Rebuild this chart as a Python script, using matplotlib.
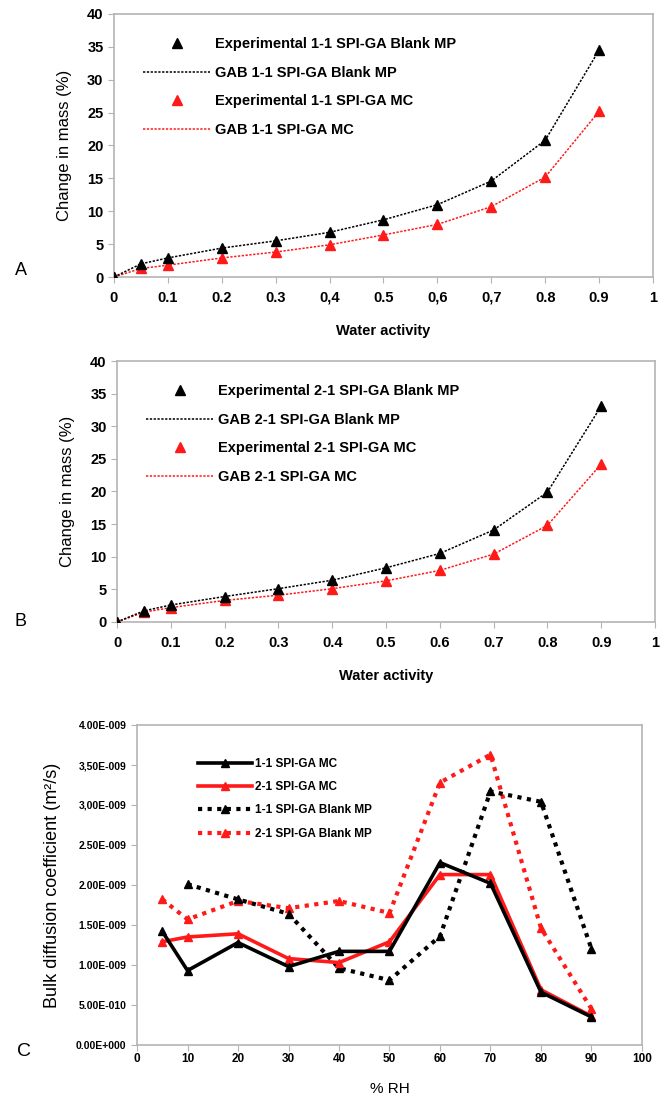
import matplotlib
matplotlib.use("Agg")
import matplotlib.pyplot as plt
import numpy as np

plt.rcParams['font.family'] = ['Liberation Sans', 'DejaVu Sans']

# Sorption isotherms (water activity vs. change in mass, %)
aw = [0, 0.05, 0.1, 0.2, 0.3, 0.4, 0.5, 0.6, 0.7, 0.8, 0.9]
a_blank_mp = [0, 2.0, 2.9, 4.4, 5.5, 6.8, 8.7, 11.0, 14.6, 20.8, 34.5]
a_mc = [0, 1.3, 1.8, 2.9, 3.8, 4.9, 6.4, 8.0, 10.7, 15.2, 25.2]
b_blank_mp = [0, 1.7, 2.6, 3.9, 5.1, 6.4, 8.3, 10.5, 14.1, 19.9, 33.1]
b_mc = [0, 1.5, 2.2, 3.3, 4.1, 5.1, 6.3, 7.9, 10.4, 14.8, 24.2]

a_xticklabels = ['0', '0.1', '0.2', '0.3', '0,4', '0.5', '0,6', '0,7', '0.8', '0.9', '1']
b_xticklabels = ['0', '0.1', '0.2', '0.3', '0.4', '0.5', '0.6', '0.7', '0.8', '0.9', '1']

# Bulk diffusion coefficients, in units of 1e-9 m2/s
rh_mc = [5, 10, 20, 30, 40, 50, 60, 70, 80, 90]
d_11_mc = [1.42, 0.93, 1.28, 0.98, 1.17, 1.17, 2.28, 2.02, 0.66, 0.35]
d_21_mc = [1.29, 1.35, 1.39, 1.08, 1.03, 1.29, 2.13, 2.13, 0.69, 0.36]
rh_11_mp = [10, 20, 30, 40, 50, 60, 70, 80, 90]
d_11_mp = [2.01, 1.82, 1.64, 0.96, 0.81, 1.36, 3.17, 3.04, 1.20]
rh_21_mp = [5, 10, 20, 30, 40, 50, 60, 70, 80, 90]
d_21_mp = [1.82, 1.57, 1.80, 1.71, 1.80, 1.65, 3.28, 3.63, 1.46, 0.45]
c_yticks = [0, 0.5, 1.0, 1.5, 2.0, 2.5, 3.0, 3.5, 4.0]
c_yticklabels = ['0.00E+000', '5.00E-010', '1.00E-009', '1.50E-009', '2.00E-009',
                 '2.50E-009', '3,00E-009', '3,50E-009', '4.00E-009']

RED = '#ff1a1a'
SPINE = '#b4b4b4'

fig = plt.figure(figsize=(6.6, 11.01), dpi=100)


def style_axes(ax):
    for s in ax.spines.values():
        s.set_color(SPINE)
        s.set_linewidth(1.2)
    ax.tick_params(axis='both', which='both', direction='out', length=4,
                   color=SPINE, top=False, right=False)


def isotherm_panel(rect, mp, mc, ratio, xticklabels):
    ax = fig.add_axes(rect)
    ax.plot(aw, mp, linestyle='none', marker='^', color='black', ms=7,
            label=f'Experimental {ratio} SPI-GA Blank MP', zorder=4)
    ax.plot(aw, mp, linestyle=(0, (1.5, 1)), color='black', lw=1.1,
            label=f'GAB {ratio} SPI-GA Blank MP', zorder=3)
    ax.plot(aw, mc, linestyle='none', marker='^', color=RED, ms=7,
            label=f'Experimental {ratio} SPI-GA MC', zorder=3)
    ax.plot(aw, mc, linestyle=(0, (1.5, 1)), color=RED, lw=1.1,
            label=f'GAB {ratio} SPI-GA MC', zorder=2)
    ax.set_xlim(0, 1)
    ax.set_ylim(0, 40)
    ax.set_xticks(np.arange(0, 1.01, 0.1))
    ax.set_xticklabels(xticklabels)
    ax.set_yticks(range(0, 41, 5))
    ax.tick_params(labelsize=10.5)
    ax.tick_params(axis='x', pad=6)
    for t in ax.get_xticklabels() + ax.get_yticklabels():
        t.set_fontweight('bold')
    ax.set_xlabel('Water activity', fontsize=10.5, fontweight='bold', labelpad=14)
    ax.set_ylabel('Change in mass (%)', fontsize=12, labelpad=11)
    ax.legend(loc='upper left', bbox_to_anchor=(0.03, 0.962), frameon=False,
              handlelength=4.6, handletextpad=0.35, labelspacing=1.0,
              prop={'size': 10.5, 'weight': 'bold'})
    style_axes(ax)
    return ax


isotherm_panel([0.1727, 0.7484, 0.8167, 0.2389], a_blank_mp, a_mc, '1-1', a_xticklabels)
isotherm_panel([0.1773, 0.4351, 0.8151, 0.2370], b_blank_mp, b_mc, '2-1', b_xticklabels)

# Panel C: diffusion coefficients against relative humidity
axc = fig.add_axes([0.2076, 0.0509, 0.7651, 0.2906])
scale = 1e-9
axc.plot(rh_mc, np.array(d_11_mc) * scale, color='black', lw=2.6, marker='^', ms=5.5,
         label='1-1 SPI-GA MC', zorder=4)
axc.plot(rh_mc, np.array(d_21_mc) * scale, color=RED, lw=2.6, marker='^', ms=5.5,
         label='2-1 SPI-GA MC', zorder=3)
axc.plot(rh_11_mp, np.array(d_11_mp) * scale, color='black', lw=3, linestyle=(0, (1, 1.3)),
         marker='^', ms=5.5, label='1-1 SPI-GA Blank MP', zorder=2)
axc.plot(rh_21_mp, np.array(d_21_mp) * scale, color=RED, lw=3, linestyle=(0, (1, 1.3)),
         marker='^', ms=5.5, label='2-1 SPI-GA Blank MP', zorder=1)
axc.set_xlim(0, 100)
axc.set_ylim(0, 4.0 * scale)
axc.set_xticks(range(0, 101, 10))
axc.set_yticks(np.array(c_yticks) * scale)
axc.set_yticklabels(c_yticklabels)
axc.tick_params(axis='x', labelsize=8.5, pad=2)
axc.tick_params(axis='y', labelsize=7.5)
for t in axc.get_xticklabels() + axc.get_yticklabels():
    t.set_fontweight('bold')
axc.set_xlabel('% RH', fontsize=11, labelpad=12)
axc.set_ylabel('Bulk diffusion coefficient (m\u00b2/s)', fontsize=13, labelpad=11)
axc.legend(loc='upper left', bbox_to_anchor=(0.1, 0.93), frameon=False,
           handlelength=4.6, handletextpad=0.2, labelspacing=0.95,
           prop={'size': 8.5, 'weight': 'bold'})
style_axes(axc)

# Panel letters
fig.text(15 / 660, 1 - 270 / 1101, 'A', fontsize=13, va='center', ha='left')
fig.text(15 / 660, 1 - 622 / 1101, 'B', fontsize=13, va='center', ha='left')
fig.text(17 / 660, 1 - 1051 / 1101, 'C', fontsize=14, va='center', ha='left')

fig.savefig('out.png', dpi=100)
